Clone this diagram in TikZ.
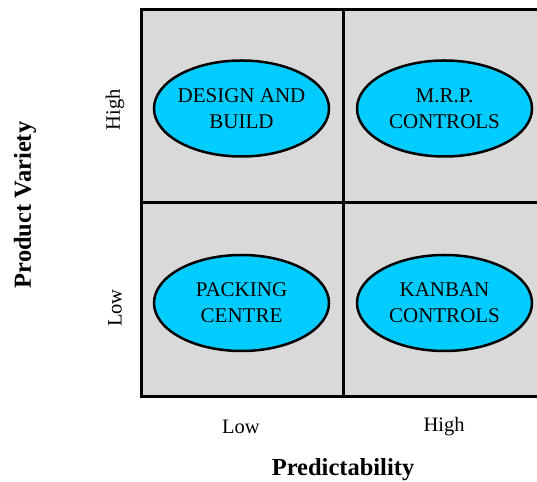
\documentclass[tikz,border=0pt]{standalone}
\usepackage{fontspec}
\setmainfont{Liberation Serif}
\usetikzlibrary{shapes.geometric}
\definecolor{cellgray}{HTML}{D9D9D9}
\definecolor{ovalblue}{HTML}{00CCFF}
\tikzset{
  x=1pt, y=1pt,
  grid/.style={line width=3pt, draw=black},
  oval/.style={ellipse, draw=black, line width=2.5pt, fill=ovalblue,
    minimum width=175pt, minimum height=96pt, inner sep=0pt},
  ovaltext/.style={align=center, inner sep=0pt, font=\fontsize{21}{26}\selectfont},
  tick/.style={font=\fontsize{20.5}{24}\selectfont},
  axis/.style={font=\fontsize{24.5}{28}\selectfont\bfseries}
}
\begin{document}
\begin{tikzpicture}
\useasboundingbox (0,0) rectangle (537,481);
\begin{scope}
  \clip (0,0) rectangle (537,481);
  % quadrant grid
  \fill[cellgray] (141,84) rectangle (545,471);
  \draw[grid] (545,471) -- (141,471) -- (141,84) -- (545,84);
  \draw[grid] (343,471) -- (343,84);
  \draw[grid] (141,278) -- (545,278);
\end{scope}
% strategies
\node[oval] (db) at (241.5,372.5) {};
\node[oval] (mrp) at (444.5,372.5) {};
\node[oval] (pc) at (241.5,178) {};
\node[oval] (kb) at (444.5,178) {};
\node[ovaltext] (dbt) at (db.center) {DESIGN AND\\BUILD};
\node[ovaltext] (mrpt) at (mrp.center) {M.R.P.\\CONTROLS};
\node[ovaltext] (pct) at (pc.center) {PACKING\\CENTRE};
\node[ovaltext] (kbt) at (kb.center) {KANBAN\\CONTROLS};
% axis ticks
\node[tick, rotate=90] (vh) at (115,371) {High};
\node[tick, rotate=90] (vl) at (115,173) {Low};
\node[tick] (hl) at (241,54) {Low};
\node[tick] (hh) at (444,54) {High};
% axis titles
\node[axis, rotate=90] (yv) at (25,276) {Product Variety};
\node[axis] (xp) at (343,11) {Predictability};
\end{tikzpicture}
\end{document}
